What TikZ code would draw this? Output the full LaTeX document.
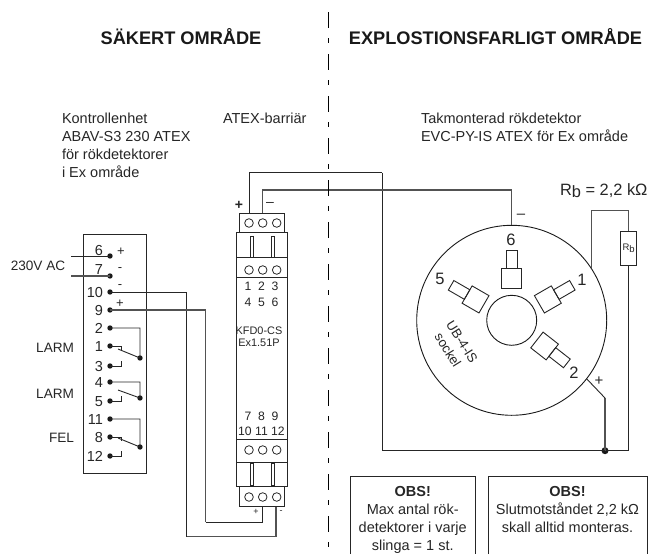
\documentclass[tikz,border=0pt]{standalone}
\usepackage{fontspec}
\setmainfont{Liberation Sans}
\newcommand{\fsz}[1]{\fontsize{#1}{#1}\selectfont}
\newcommand{\rbtext}{R\raisebox{-0.16em}{b}}
\tikzset{
  wire/.style={draw=black!68,line width=1.1pt},
  thinwire/.style={draw=black!85,line width=0.9pt},
  part/.style={draw=black!85,line width=0.9pt,fill=white},
  partline/.style={draw=black!85,line width=0.9pt},
  txt/.style={inner sep=0pt,outer sep=0pt,text=black!85,font=\fsz{14.5}},
  para/.style={txt,align=left,anchor=north west,font=\fontsize{14.5}{17.8}\selectfont},
  para2/.style={txt,align=center,anchor=north,font=\fontsize{14.5}{17.9}\selectfont},
  title/.style={txt,anchor=base,text=black!90,font=\fsz{18.2}\bfseries},
  num/.style={txt,anchor=base east,font=\fsz{14.5}},
  sign/.style={txt,anchor=center,font=\fsz{13}},
  side/.style={txt,anchor=base east,font=\fsz{13.6}},
  bnum/.style={txt,anchor=base,font=\fsz{12.2}},
  btxt/.style={txt,anchor=base,font=\fsz{10.9}},
  dot/.style={circle,fill=black!90,inner sep=0pt,minimum size=5.4pt},
  hole/.style={circle,draw=black!85,line width=0.8pt,fill=white,inner sep=0pt,minimum size=8.6pt},
  relay/.style={draw=black!85,line width=0.9pt},
  slot/.style={draw=black!85,line width=0.8pt,fill=white},
}
\begin{document}
\begin{tikzpicture}[x=1pt,y=-1pt]
\useasboundingbox (0,0) rectangle (650,554);
% titles
\node[title] (t1) at (181,44) {SÄKERT OMRÅDE};
\node[title] (t2) at (495.5,44) {EXPLOSTIONSFARLIGT OMRÅDE};
% descriptions
\node[para] (d1) at (62,113.4) {Kontrollenhet\\ABAV-S3 230 ATEX\\för rökdetektorer\\i Ex område};
\node[para] (d2) at (223,113.4) {ATEX-barriär};
\node[para] (d3) at (421,113.4) {Takmonterad rökdetektor\\EVC-PY-IS ATEX för Ex område};
% control unit
\node[draw=black!85,line width=0.9pt,minimum width=63pt,minimum height=239pt,inner sep=0pt] (ctrl) at (115,353.5) {};
\foreach \n/\y in {6/256,7/276,10/292,9/310,2/328,1/346,3/366,4/382,5/401,11/419,8/437,12/456}{
  \node[dot] (t\n) at (110,\y) {};
}
\foreach \n/\y in {6/255.5,7/274.5,10/297,9/315,2/333,1/351,3/371,4/387,5/406,11/424,8/442.5,12/461}{
  \node[num] (n\n) at (103,\y) {\n};
}
\node[sign] (p6) at (121,252) {+};
\node[sign] (m7) at (120,270) {-};
\node[sign] (m10) at (120,287) {-};
\node[sign] (p9) at (120,304) {+};
\node[txt,font=\fsz{13.6}] (ac) at (38,266) {230V AC};
\node[side] (l1) at (74,352) {LARM};
\node[side] (l2) at (74,398) {LARM};
\node[side] (l3) at (74,442) {FEL};
\coordinate (in6) at (71,256);
\coordinate (in7) at (71,276);
\draw[thinwire] (in6) -- (t6.center);
\draw[wire] (in7) -- (t7.center);
% relays
\node[dot] (r1) at (140,358) {};
\node[dot] (r2) at (140,398) {};
\node[dot] (r3) at (140,447) {};
\coordinate (b1) at (118,349);
\coordinate (b2) at (118,390);
\coordinate (b3) at (118,438);
\draw[relay] (t2.center) -| (r1.center) -- (b1);
\draw[relay] (t4.center) -| (r2.center) -- (b2);
\draw[relay] (t11.center) -| (r3.center) -- (b3);
\coordinate (s1) at (121,350);
\coordinate (s3) at (121,361);
\coordinate (s5) at (121,396);
\coordinate (s8) at (121,441);
\coordinate (s12) at (121,451);
\draw[relay] (t1.center) -| (s1);
\draw[relay] (t3.center) -| (s3);
\draw[relay] (t5.center) -| (s5);
\draw[relay] (t8.center) -| (s8);
\draw[relay] (t12.center) -| (s12);
% wire coordinates
\coordinate (tt1) at (249,223);
\coordinate (tt2) at (262.7,223);
\coordinate (tt3) at (276.7,223);
\coordinate (bb1) at (249,497);
\coordinate (bb2) at (262.7,497);
\coordinate (bb3) at (276,497);
\coordinate (c10) at (186.7,536.7);
\coordinate (c9) at (205.7,522);
\draw[thinwire] (t10.center) -| (c10);
\draw[wire] (c10) -| (bb3);
\draw[wire] (t9.center) -| (c9);
\draw[thinwire] (c9) -| (bb2);
% detector
\node[circle,draw=black!90,line width=0.9pt,minimum size=190pt,inner sep=0pt] (det) at (511.7,320.3) {};
\node[circle,draw=black!90,line width=0.9pt,minimum size=50pt,inner sep=0pt] (hub) at (det.center) {};
\foreach \a in {0,-60,60,-128}{
  \begin{scope}[shift={(det.center)},rotate=\a]
    \draw[partline] (-5.5,-51.5) rectangle (5.5,-70);
    \draw[partline] (-10,-51.5) rectangle (10,-32);
  \end{scope}
}
\node[txt,font=\fsz{16.5}] (k6) at (511,240) {6};
\node[txt,font=\fsz{16.5}] (k1) at (582,280) {1};
\node[txt,font=\fsz{16.5}] (k5) at (440,279) {5};
\node[txt,font=\fsz{16.5}] (k2) at (574,373) {2};
\node[txt,font=\fsz{13.2},rotate=-58] (u1) at (462,342) {UB-4-IS};
\node[txt,font=\fsz{13.2},rotate=-58] (u2) at (448,350) {sockel};
% resistor
\node[draw=black!85,line width=0.9pt,minimum width=16pt,minimum height=34.7pt,inner sep=0pt,text=black!85,font=\fsz{9.5}] (rb) at (628.7,248.3) {\rbtext};
\node[txt,anchor=base west,font=\fsz{16.4}] (rbl) at (560,195) {\rbtext\ = 2,2 kΩ};
\node[dot,minimum size=7pt] (jn) at (605,450.7) {};
\coordinate (rtop) at (600,210.7);
\draw[wire] (det.33) -- (det.33 |- rtop) -- (rb.north |- rtop) -- (rb.north);
\draw[thinwire] (rb.south) |- (jn.center);
\coordinate (k1w) at (605,398);
\draw[wire] (jn.center) -- (k1w);
\draw[thinwire] (k1w) -- (det.-38.6);
\coordinate (cor1) at (382,172.7);
\coordinate (cor2) at (511.7,190);
\draw[thinwire] (tt1) |- (cor1);
\draw[thinwire] (cor1) |- (jn.center);
\draw[wire] (tt2) |- (cor2) -- (det.north);
\node[sign,font=\fsz{14}\bfseries] (tp) at (239,205) {+};
\node[sign,font=\fsz{14}] (tm) at (270,204) {--};
\node[sign,font=\fsz{15}] (dm) at (521,216) {--};
\node[sign,font=\fsz{15}] (dp) at (599,381) {+};
\node[sign,font=\fsz{9}] (bp) at (256,512) {+};
\node[sign,font=\fsz{9}] (bm) at (281,512) {-};
% barrier
\draw[part] (236.7,232) rectangle (287.7,486);
\draw[part] (239,213) rectangle (284,232);
\draw[part] (239,486) rectangle (284,506);
\draw[partline] (236.7,257) -- (287.7,257);
\draw[partline] (236.7,277) -- (287.7,277);
\draw[partline] (236.7,439) -- (287.7,439);
\draw[partline] (236.7,462) -- (287.7,462);
\foreach \x in {250,271}{
  \draw[slot] (\x,236) rectangle ++(3.6,21);
  \draw[slot] (\x,463) rectangle ++(3.6,22);
}
\foreach \c/\xx in {a/249,b/262.7,c/276.7}{
  \node[hole] (ht\c) at (\xx,223) {};
  \node[hole] (hu\c) at (\xx,270) {};
  \node[hole] (hl\c) at (\xx,450) {};
  \node[hole] (hb\c) at (\xx,497) {};
}
\node[bnum] (r123) at (261.5,290.7) {1\ \ 2\ \ 3};
\node[bnum] (r456) at (261.5,306) {4\ \ 5\ \ 6};
\node[bnum] (r789) at (261.5,420) {7\ \ 8\ \ 9};
\node[bnum] (r101) at (261.5,435.7) {10 11 12};
\node[btxt] (kf1) at (259,334) {KFD0-CS};
\node[btxt] (kf2) at (259,346.7) {Ex1.51P};
% notes
\draw[partline] (350.7,554) |- (475.3,476) -- (475.3,554);
\draw[partline] (488,554) |- (647,476) -- (647,554);
\node[para2] (o1) at (412.7,486.3) {\textbf{OBS!}\\Max antal rök-\\detektorer i varje\\slinga = 1 st.};
\node[para2] (o2) at (567.5,486.3) {\textbf{OBS!}\\Slutmotståndet 2,2 kΩ\\skall alltid monteras.};
% zone border
\coordinate (za) at (328.3,12);
\coordinate (zb) at (328.3,554);
\draw[black,line width=1pt,dash pattern=on 16pt off 10pt on 5pt off 11pt] (za) -- (zb);
\end{tikzpicture}
\end{document}
